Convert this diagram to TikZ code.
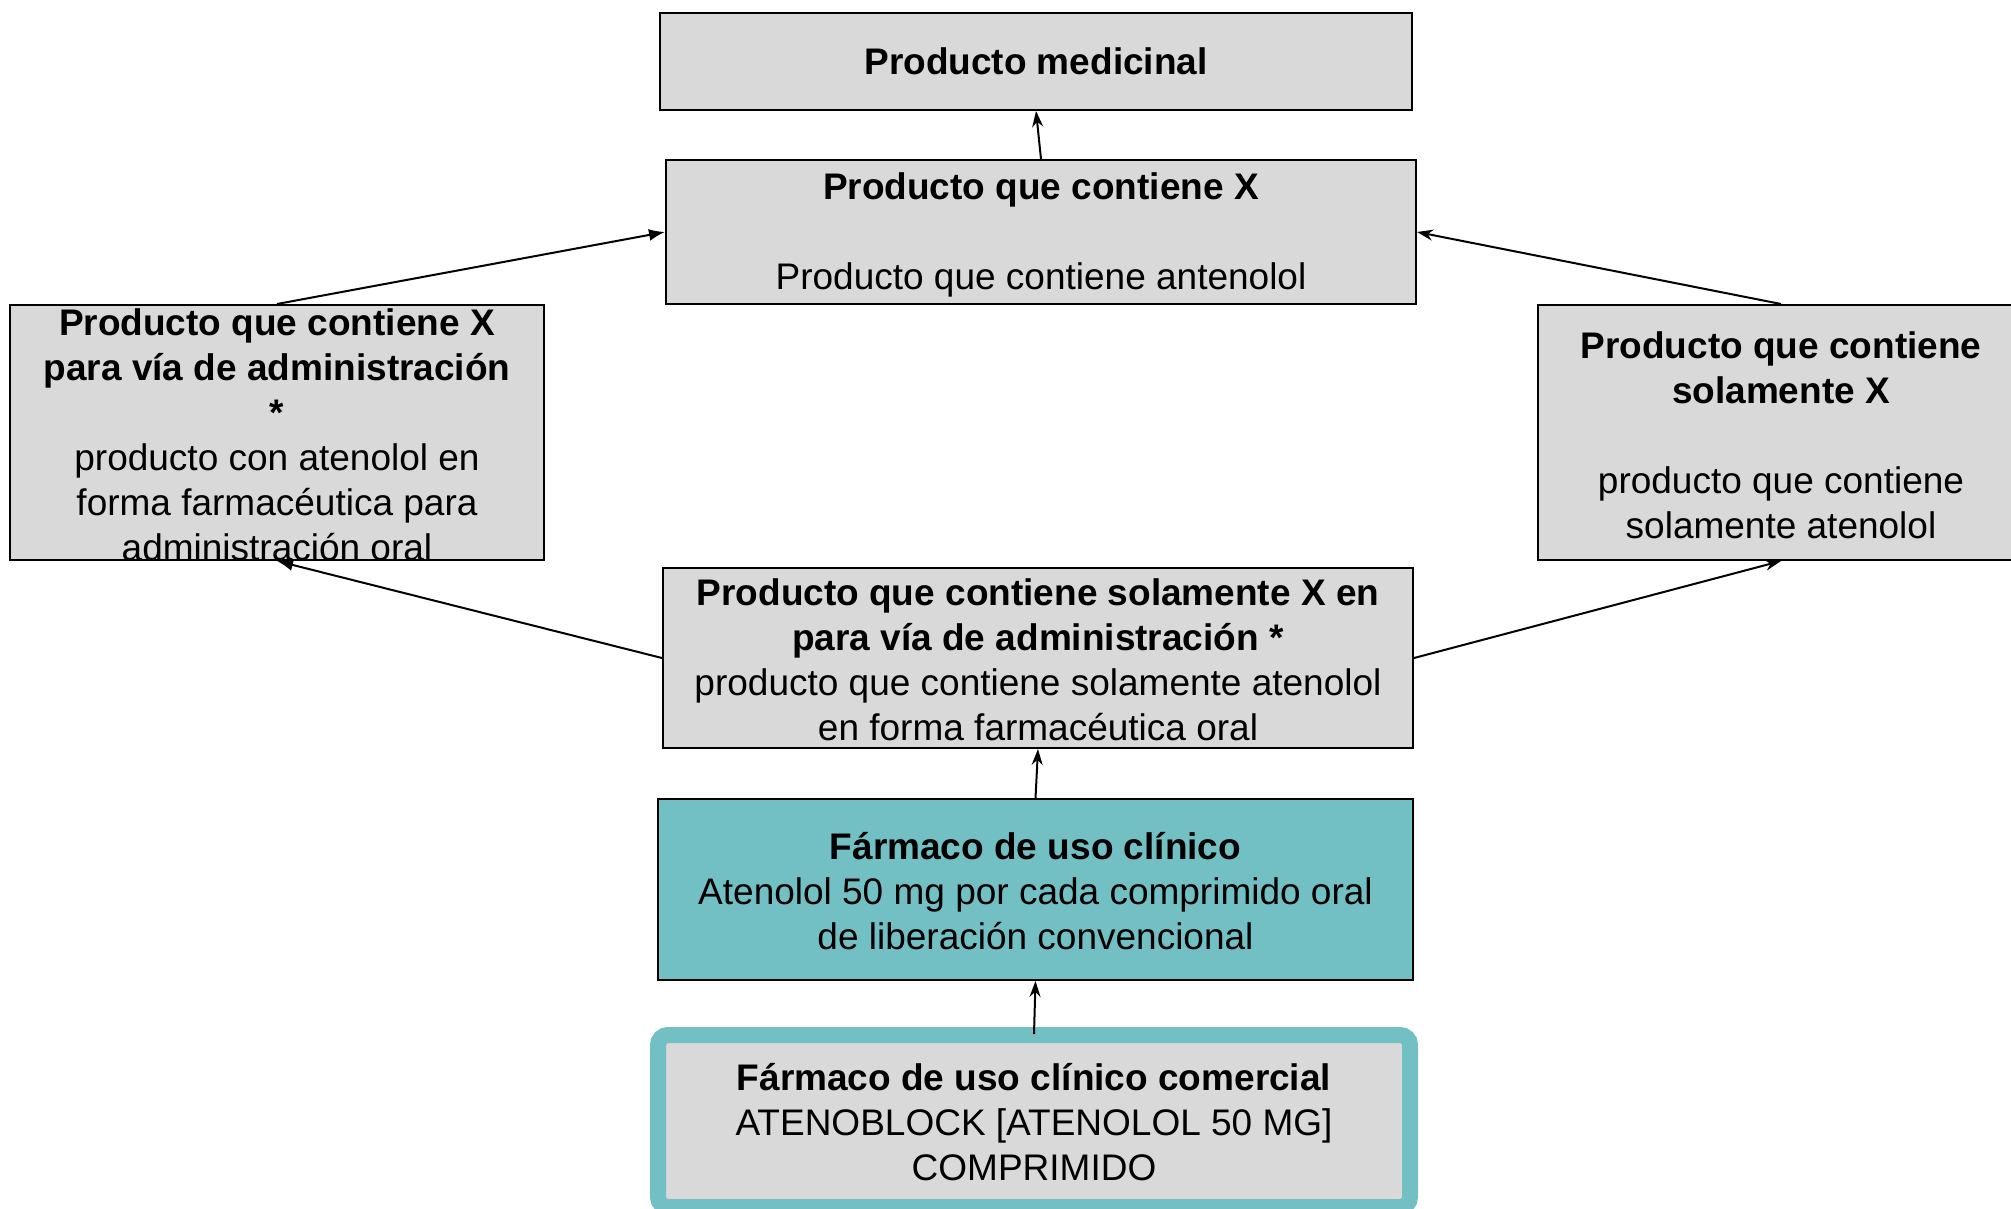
\documentclass[tikz,border=0pt]{standalone}
\usepackage{fontspec}
\setmainfont{Liberation Sans}
\usetikzlibrary{arrows.meta}
\definecolor{boxgray}{RGB}{217,217,217}
\definecolor{tealfill}{RGB}{114,191,196}
\begin{document}
\begin{tikzpicture}[x=1pt,y=-1pt,
  box/.style={draw=black, line width=2pt, fill=boxgray, inner sep=0pt},
  txt/.style={align=center, font=\fontsize{37}{45}\selectfont, inner sep=0pt},
  arr/.style={-{Stealth[length=16pt,width=11pt]}, line width=2pt},
  arrt/.style={-{Latex[length=16pt,width=12pt]}, line width=2pt}]
\useasboundingbox (0,0) rectangle (2011,1208);
% boxes
\node[box, minimum width=752pt, minimum height=97pt] (a) at (1036,61.5) {};
\node[txt] (at) at (a) {\textbf{Producto medicinal}};
\node[box, minimum width=750pt, minimum height=144pt] (b) at (1041,232) {};
\node[txt] (bt) at (1041,235) {\textbf{Producto que contiene X}\\[45pt]Producto que contiene antenolol};
\node[box, minimum width=534pt, minimum height=255pt] (c) at (277,432.5) {};
\node[txt] (ct) at (277,435) {\textbf{Producto que contiene X}\\\textbf{para vía de administración}\\\textbf{*}\\producto con atenolol en\\forma farmacéutica para\\administración oral};
\node[box, minimum width=486pt, minimum height=255pt] (d) at (1781,432.5) {};
\node[txt] (dt) at (1781,435) {\textbf{Producto que contiene}\\\textbf{solamente X}\\[45pt]producto que contiene\\solamente atenolol};
\node[box, minimum width=750pt, minimum height=180pt] (e) at (1038,658) {};
\node[txt] (et) at (1038,660) {\textbf{Producto que contiene solamente X en}\\\textbf{para vía de administración *}\\producto que contiene solamente atenolol\\en forma farmacéutica oral};
\node[box, fill=tealfill, minimum width=755pt, minimum height=181pt] (f) at (1035.5,889.5) {};
\node[txt] (ft) at (1035.5,891) {\textbf{Fármaco de uso clínico}\\Atenolol 50 mg por cada comprimido oral\\de liberación convencional};
\node[box, draw=tealfill, line width=16pt, rounded corners=10pt, minimum width=752pt, minimum height=172pt] (g) at (1034,1121) {};
\node[txt] (gt) at (1034,1122) {\textbf{Fármaco de uso clínico comercial}\\ATENOBLOCK [ATENOLOL 50 MG]\\COMPRIMIDO};
% connectors
\draw[arr] (b.north) -- (a.south);
\draw[arrt] (c.north) -- (b.west);
\draw[arr] (d.north) -- (b.east);
\draw[arrt] (e.west) -- (c.south);
\draw[arr] (e.east) -- (d.south);
\draw[arr] (f.north) -- (e.south);
\draw[arr] ([yshift=-7pt]g.north) -- (f.south);
\end{tikzpicture}
\end{document}
